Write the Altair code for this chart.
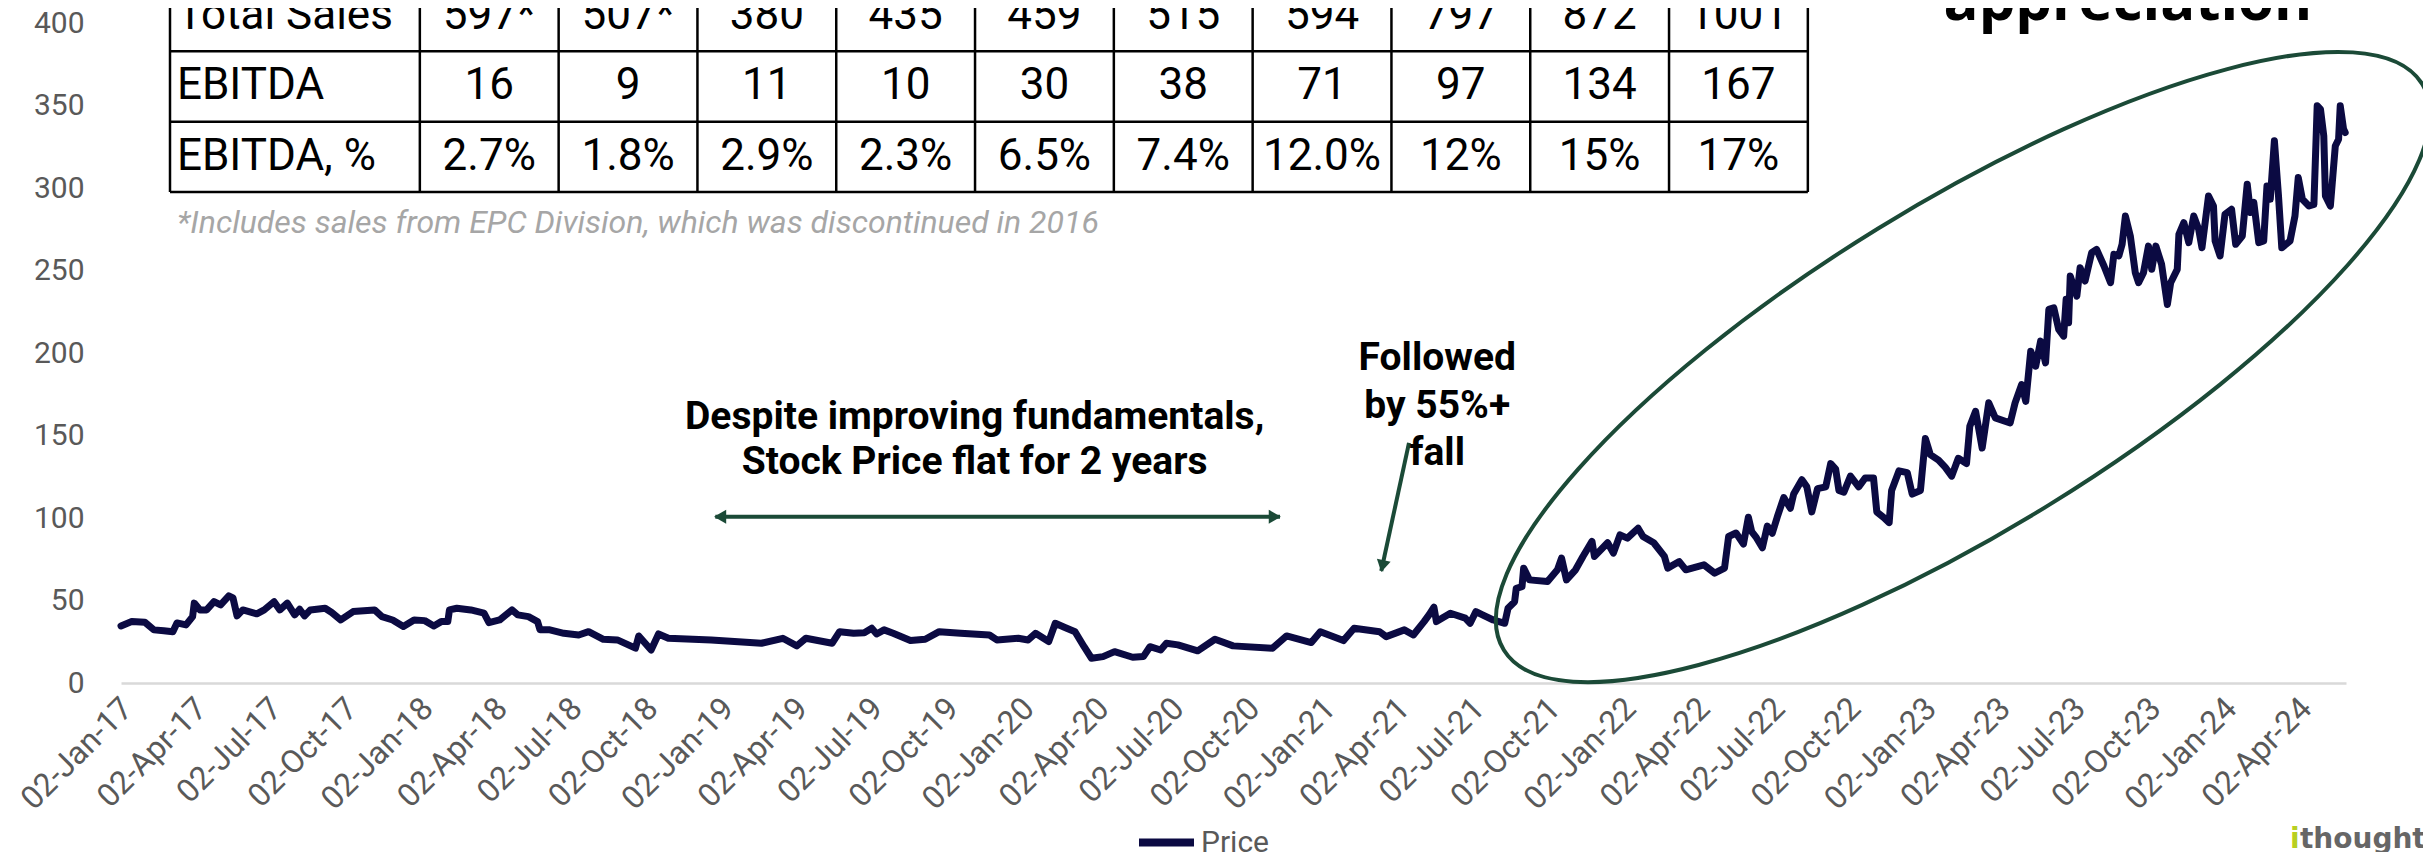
import altair as alt
import pandas as pd

# ---------------- data ----------------
START = "2017-01-02"
END = "2024-05-28"

# trading-day offsets (days after START) and closing price
day_offsets = [
    0, 13, 29, 40, 52, 63, 68, 79, 87, 89, 96, 104, 113, 121, 131, 136, 141, 148, 165, 174,
    186, 193, 202, 211, 217, 223, 230, 248, 256, 267, 282, 308, 317, 330, 343, 356, 369, 380, 389, 397,
    399, 408, 425, 441, 447, 460, 475, 482, 495, 506, 509, 521, 538, 556, 568, 586, 603, 625, 629, 644,
    653, 665, 717, 778, 804, 821, 832, 864, 873, 890, 903, 912, 918, 927, 938, 959, 977, 994, 1020, 1055,
    1064, 1090, 1102, 1111, 1127, 1135, 1146, 1159, 1170, 1179, 1193, 1207, 1229, 1242, 1250, 1263, 1270, 1284, 1308, 1329,
    1351, 1399, 1416, 1446, 1457, 1485, 1498, 1529, 1537, 1559, 1570, 1583, 1589, 1595, 1598, 1615, 1633, 1639, 1646, 1654,
    1667, 1681, 1685, 1693, 1695, 1702, 1704, 1711, 1733, 1745, 1750, 1756, 1767, 1776, 1787, 1790, 1806, 1813, 1821, 1830,
    1843, 1849, 1862, 1875, 1879, 1893, 1901, 1923, 1936, 1948, 1953, 1962, 1971, 1977, 1981, 1986, 1994, 2000, 2006, 2012,
    2020, 2028, 2032, 2042, 2048, 2054, 2061, 2071, 2077, 2083, 2087, 2093, 2101, 2111, 2119, 2129, 2133, 2141, 2148, 2151,
    2160, 2170, 2176, 2186, 2192, 2198, 2208, 2216, 2224, 2232, 2242, 2246, 2253, 2261, 2269, 2277, 2295, 2301, 2309, 2314,
    2320, 2326, 2332, 2338, 2342, 2348, 2354, 2360, 2363, 2366, 2368, 2376, 2380, 2386, 2394, 2400, 2409, 2417, 2421, 2427,
    2431, 2435, 2441, 2447, 2451, 2457, 2463, 2467, 2472, 2479, 2486, 2490, 2498, 2500, 2506, 2512, 2518, 2524, 2528, 2536,
    2542, 2544, 2550, 2556, 2564, 2569, 2577, 2583, 2587, 2591, 2597, 2603, 2607, 2611, 2616, 2621, 2625, 2635, 2641, 2645,
    2650, 2658, 2664, 2668, 2672, 2676, 2678, 2684, 2690, 2694, 2696, 2700, 2702,
]
prices = [
    34.6, 37.2, 36.8, 32.2, 31.7, 31.1, 36.4, 35.2, 40.2, 48.4, 44.3, 44.3, 49.3, 47.3, 52.8, 51.6, 40.7, 44.3, 41.9, 44.3,
    49.3, 44.3, 48.4, 41.3, 44.7, 40.7, 44.3, 45.3, 42.7, 38.2, 43.3, 44.3, 40.2, 38.2, 34.2, 38.2, 37.8, 34.6, 37.2, 37.2,
    44.3, 45.3, 44.3, 42.3, 36.6, 38.2, 44.3, 41.3, 40.2, 37.2, 32.2, 32.2, 30.1, 29.1, 31.1, 26.5, 26.1, 21.1, 28.5, 20.0,
    29.7, 27.1, 26.1, 24.1, 27.1, 22.5, 27.1, 24.1, 31.1, 30.1, 30.5, 33.2, 29.7, 32.2, 30.1, 25.7, 26.5, 31.1, 30.1, 29.1,
    26.1, 27.1, 26.1, 30.1, 25.1, 36.2, 33.8, 31.1, 22.0, 15.0, 16.0, 19.0, 15.6, 16.0, 22.0, 20.0, 24.1, 23.1, 19.5, 26.5,
    22.5, 21.1, 28.5, 24.5, 31.1, 25.7, 33.2, 31.1, 28.1, 32.2, 29.1, 37.2, 41.3, 45.9, 37.2, 42.3, 39.3, 36.2, 43.3, 41.3,
    38.2, 36.2, 45.3, 49.3, 57.4, 58.4, 69.6, 62.5, 61.5, 68.6, 75.7, 62.5, 68.6, 76.7, 85.8, 76.7, 85.0, 78.7, 89.8, 87.8,
    93.8, 88.8, 85.0, 76.7, 69.6, 73.6, 68.6, 71.6, 66.6, 69.6, 88.8, 90.9, 84.2, 100.5, 91.8, 88.6, 82.0, 95.1, 90.7, 100.5,
    112.4, 105.9, 114.5, 123.2, 118.9, 103.7, 117.8, 118.9, 133.0, 129.7, 116.7, 115.6, 125.4, 118.9, 124.3, 124.3, 103.7, 100.5, 97.2, 116.7,
    128.6, 127.5, 114.5, 116.7, 148.2, 138.4, 135.1, 130.8, 125.4, 136.2, 133.0, 155.6, 164.7, 142.4, 169.8, 160.7, 157.6, 169.8, 180.9, 170.7,
    201.1, 192.0, 207.2, 194.0, 226.4, 227.4, 214.3, 210.2, 232.5, 218.3, 246.6, 234.5, 251.7, 243.6, 260.8, 262.8, 252.7, 242.6, 259.8, 258.8,
    265.9, 283.0, 270.9, 248.7, 242.6, 248.7, 264.8, 250.7, 264.8, 253.7, 229.4, 242.6, 250.7, 271.9, 279.0, 266.9, 283.0, 275.0, 263.8, 295.2,
    289.1, 267.9, 258.8, 284.1, 287.1, 265.9, 270.9, 302.3, 285.1, 291.3, 266.9, 267.9, 301.2, 293.2, 328.6, 295.2, 263.8, 267.9, 283.0, 306.3,
    293.2, 289.1, 290.1, 349.8, 347.8, 331.6, 295.2, 289.1, 325.5, 329.6, 349.8, 335.7, 333.6,
]

tick_dates = [
    "2017-01-02", "2017-04-02", "2017-07-02", "2017-10-02",
    "2018-01-02", "2018-04-02", "2018-07-02", "2018-10-02",
    "2019-01-02", "2019-04-02", "2019-07-02", "2019-10-02",
    "2020-01-02", "2020-04-02", "2020-07-02", "2020-10-02",
    "2021-01-02", "2021-04-02", "2021-07-02", "2021-10-02",
    "2022-01-02", "2022-04-02", "2022-07-02", "2022-10-02",
    "2023-01-02", "2023-04-02", "2023-07-02", "2023-10-02",
    "2024-01-02", "2024-04-02",
]
y_ticks = [0, 50, 100, 150, 200, 250, 300, 350, 400]

# financial table
row_labels = ["Total Sales", "EBITDA", "EBITDA, %"]
total_sales = ["597*", "507*", "380", "435", "459", "515", "594", "797", "872", "1001"]
ebitda = ["16", "9", "11", "10", "30", "38", "71", "97", "134", "167"]
ebitda_pct = ["2.7%", "1.8%", "2.9%", "2.3%", "6.5%", "7.4%", "12.0%", "12%", "15%", "17%"]
footnote = "*Includes sales from EPC Division, which was discontinued in 2016"

# annotations (anchor in data units: day offset, price)
note_lines = ["Despite improving fundamentals,", "Stock Price flat for 2 years",
              "Followed", "by 55%+", "fall"]
note_days = [1037, 1037, 1599, 1599, 1599]
note_prices = [161.2, 134.1, 196.7, 168.1, 139.6]

NAVY = "#0b0a42"
GREEN = "#1b4a37"
GRAY = "#595959"

# ---------------- helpers ----------------
PLOT_W, PLOT_H = 2225, 660
t0 = pd.Timestamp(START)
DAYS = (pd.Timestamp(END) - t0).days


def day_to_date(d):
    return (t0 + pd.Timedelta(days=float(d))).strftime("%Y-%m-%dT%H:%M:%SZ")


def dt(s):
    return alt.DateTime(year=int(s[:4]), month=int(s[5:7]), date=int(s[8:10]), utc=True)


x_scale = alt.Scale(type="utc", domain=[dt(START), dt(END)], nice=False)
y_scale = alt.Scale(domain=[0, 400], nice=False, zero=False)

x_axis = alt.Axis(
    values=[dt(s) for s in tick_dates], format="%d-%b-%y", labelAngle=315,
    labelAlign="right", labelBaseline="middle", labelOffset=6,
    labelFont="Roboto", labelFontSize=32, labelColor=GRAY, labelPadding=20,
    ticks=False, grid=False, domainColor="#d9d9d9", domainWidth=2.5,
    labelOverlap=False, labelFlush=False, labelBound=False, title=None,
)
y_axis = alt.Axis(
    values=y_ticks, labelFont="Roboto", labelFontSize=30, labelColor=GRAY,
    labelPadding=37, domain=False, ticks=False, grid=False,
    labelFlush=False, labelOverlap=False, title=None,
)


def X():
    return alt.X("date:T", scale=x_scale, axis=x_axis)


def Y():
    return alt.Y("price:Q", scale=y_scale, axis=y_axis)


# ---------------- price line ----------------
price_df = pd.DataFrame({
    "date": [day_to_date(d) for d in day_offsets],
    "price": prices,
    "series": ["Price"] * len(prices),
})

line = alt.Chart(price_df).mark_line(
    strokeWidth=7, strokeJoin="round", strokeCap="round"
).encode(
    x=X(),
    y=Y(),
    color=alt.Color(
        "series:N", scale=alt.Scale(domain=["Price"], range=[NAVY]),
        legend=alt.Legend(
            title=None, orient="none", legendX=1014, legendY=788,
            symbolType="stroke", symbolStrokeWidth=8, symbolSize=3025,
            labelFont="Roboto", labelFontSize=30, labelColor=GRAY, labelOffset=3,
        ),
    ),
)

# ---------------- annotations ----------------
notes_df = pd.DataFrame({
    "date": [day_to_date(d) for d in note_days],
    "price": note_prices,
    "text": note_lines,
})
notes = alt.Chart(notes_df).mark_text(
    font="Roboto", fontWeight="bold", fontSize=39, color="black",
    align="center", baseline="middle",
).encode(x=X(), y=Y(), text="text:N")

title_df = pd.DataFrame({"date": [day_to_date(2438)], "price": [401.8], "text": ["appreciation"]})
title_txt = alt.Chart(title_df).mark_text(
    font="Open Sans", fontWeight="bold", fontSize=58, color="black",
    align="center", baseline="alphabetic",
).encode(x=X(), y=Y(), text="text:N")

logo_i_df = pd.DataFrame({"date": [day_to_date(2635)], "price": [-100.0], "text": ["i"]})
logo_i = alt.Chart(logo_i_df).mark_text(
    font="DejaVu Sans", fontWeight="bold", fontSize=28, color="#b8cf22",
    align="left", baseline="alphabetic",
).encode(x=X(), y=Y(), text="text:N")
logo_t_df = pd.DataFrame({"date": [day_to_date(2647)], "price": [-100.0], "text": ["thought"]})
logo_t = alt.Chart(logo_t_df).mark_text(
    font="DejaVu Sans", fontWeight="bold", fontSize=28, color="#666666",
    align="left", baseline="alphabetic",
).encode(x=X(), y=Y(), text="text:N")

# arrows
rules_df = pd.DataFrame({
    "date": [day_to_date(722), day_to_date(1564.7)],
    "date2": [day_to_date(1408), day_to_date(1531)],
    "price": [100.8, 145.5],
    "price2": [100.8, 67.9],
})
arrow_rules = alt.Chart(rules_df).mark_rule(strokeWidth=4, color=GREEN).encode(
    x=X(), x2="date2:T", y=Y(), y2="price2:Q"
)
heads_df = pd.DataFrame({
    "date": [day_to_date(727.8), day_to_date(1401.7), day_to_date(1532.5)],
    "price": [100.8, 100.8, 70.8],
    "angle": [270, 90, 192.1],
})
arrow_heads = alt.Chart(heads_df).mark_point(
    shape="triangle-up", filled=True, size=196, opacity=1, color=GREEN, strokeWidth=0
).encode(x=X(), y=Y(), angle=alt.Angle("angle:Q", scale=None))

# ellipse around the rally
ellipse_df = pd.DataFrame({"date": [day_to_date(2237.7)], "price": [191.5]})
ellipse = alt.Chart(ellipse_df).mark_point(
    shape="M-1,0A1,0.3013,0,1,1,1,0A1,0.3013,0,1,1,-1,0Z",
    size=1163809, angle=328.35, filled=False, opacity=1,
    stroke=GREEN, strokeWidth=4,
).encode(x=X(), y=Y())

# ---------------- table (placed in chart units) ----------------
n = len(total_sales)
LABEL_W = 1.8          # label column width, in data-column widths
COL_PX, ROW_PX = 138.8, 70.33
TABLE_X0, TABLE_Y0 = 49, -42   # table corner relative to plot area


def col_date(c):
    return day_to_date((TABLE_X0 + c * COL_PX) * DAYS / PLOT_W)


def row_price(r):
    return (PLOT_H - (TABLE_Y0 + r * ROW_PX)) * 400 / PLOT_H


col_edges = [0] + [LABEL_W + i for i in range(n + 1)]

h_df = pd.DataFrame({
    "date": [col_date(0)] * 4, "date2": [col_date(LABEL_W + n)] * 4,
    "price": [row_price(r) for r in range(4)],
})
v_df = pd.DataFrame({
    "date": [col_date(c) for c in col_edges],
    "price": [row_price(0)] * len(col_edges), "price2": [row_price(3)] * len(col_edges),
})
h_rules = alt.Chart(h_df).mark_rule(strokeWidth=2.5, color="black").encode(
    x=X(), x2="date2:T", y=Y()
)
v_rules = alt.Chart(v_df).mark_rule(strokeWidth=2.5, color="black").encode(
    x=X(), y=Y(), y2="price2:Q"
)

lab_df = pd.DataFrame({
    "date": [col_date(0.05)] * 3,
    "price": [row_price(r + 0.5) for r in range(3)],
    "text": row_labels,
})
lab_txt = alt.Chart(lab_df).mark_text(
    font="Roboto", fontSize=44, color="black", align="left", baseline="middle"
).encode(x=X(), y=Y(), text="text:N")

cells = []
for r, row in enumerate([total_sales, ebitda, ebitda_pct]):
    for i, v in enumerate(row):
        cells.append({"date": col_date(LABEL_W + i + 0.5), "price": row_price(r + 0.5), "text": v})
cell_df = pd.DataFrame(cells)
cell_txt = alt.Chart(cell_df).mark_text(
    font="Roboto", fontSize=44, color="black", align="center", baseline="middle"
).encode(x=X(), y=Y(), text="text:N")

foot_df = pd.DataFrame({"date": [col_date(0.05)], "price": [row_price(3.44)], "text": [footnote]})
foot_txt = alt.Chart(foot_df).mark_text(
    font="Roboto", fontStyle="italic", fontSize=32, color="#a6a6a6",
    align="left", baseline="middle"
).encode(x=X(), y=Y(), text="text:N")

chart = alt.layer(
    line, h_rules, v_rules, lab_txt, cell_txt, foot_txt,
    arrow_rules, arrow_heads, ellipse, notes, title_txt, logo_i, logo_t,
).properties(
    width=PLOT_W, height=PLOT_H,
    padding={"left": 113, "top": 15, "right": 77, "bottom": 169},
    autosize=alt.AutoSizeParams(type="none"),
    background="white",
).configure_view(stroke=None)

chart.save("out.html", embed_options={"renderer": "svg", "actions": False})
